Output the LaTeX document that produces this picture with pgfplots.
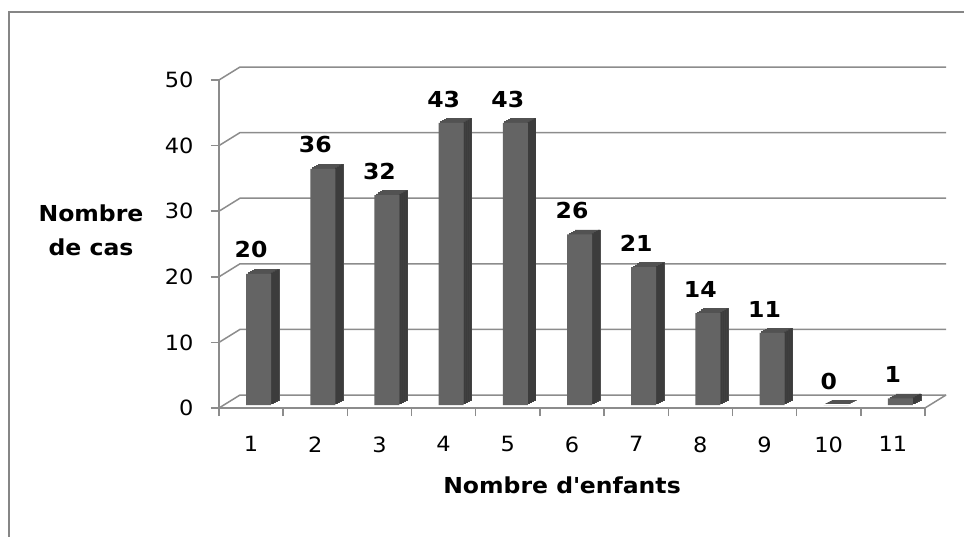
\documentclass[border=0pt]{standalone}
\usepackage{fontspec}
\setmainfont{DejaVu Sans}[FakeStretch=1.07]
\usepackage{pgfplots}
\pgfplotsset{compat=1.18}
\usepackage{pgfplotstable}
\definecolor{gridc}{HTML}{8C8C8C}
\definecolor{frontc}{HTML}{646464}
\definecolor{topc}{HTML}{525252}
\definecolor{sidec}{HTML}{3C3C3C}
\definecolor{framec}{HTML}{868686}

\pgfplotstableread{
x y
1 20
2 36
3 32
4 43
5 43
6 26
7 21
8 14
9 11
10 0
11 1
}\data

\begin{document}
\begin{tikzpicture}
\path[use as bounding box] (-219pt,-128pt) rectangle (745pt,408pt);
\draw[framec, line width=2pt] (-210pt,-140pt) -- (-210pt,396pt) -- (760pt,396pt);
\begin{axis}[
  scale only axis, width=706pt, height=328pt,
  xmin=0.5, xmax=11.5, ymin=0, ymax=50,
  axis x line*=bottom, axis y line*=left,
  axis line style={gridc, line width=1.5pt, -},
  xtick={0.5,1.5,2.5,3.5,4.5,5.5,6.5,7.5,8.5,9.5,10.5,11.5},
  xticklabels={1,2,3,4,5,6,7,8,9,10,11,{}},
  ytick={0,10,20,30,40,50},
  tick align=outside, major tick length=8pt,
  tick style={gridc, line width=1.5pt},
  xticklabel style={xshift=32.09pt, yshift=-17pt, font=\fontsize{21}{25}\selectfont},
  yticklabel style={xshift=-14pt, font=\fontsize{21}{25}\selectfont},
  /pgf/number format/assume math mode=true,
  clip=false,
  xlabel={Nombre d\textquotesingle enfants},
  ylabel={Nombre\\de cas},
  every axis x label/.style={at={(axis description cs:0,0)}, xshift=343pt, yshift=-77pt, anchor=center, font=\bfseries\fontsize{22}{26}\selectfont},
  every axis y label/.style={at={(axis description cs:0,0)}, xshift=-128pt, yshift=178pt, anchor=center, align=center, font=\bfseries\fontsize{22}{34}\selectfont},
]
\pgfplotsinvokeforeach{0,10,20,30,40,50}{
  \draw[gridc, line width=1.5pt] (axis cs:0.5,#1) -- ++(21pt,13pt) -- ([xshift=21pt,yshift=13pt]axis cs:11.5,#1);
}
\draw[gridc, line width=1.5pt] (axis cs:11.5,0) -- ++(21pt,13pt);
% top faces (staircase approximation)
\addplot[ybar, bar width=25pt, bar shift=15.5pt, yshift=7.5pt, fill=topc, draw=topc, line width=0.8pt] table[x=x,y=y]{\data};
\addplot[ybar, bar width=25pt, bar shift=13.5pt, yshift=6.375pt, fill=topc, draw=topc, line width=0.8pt] table[x=x,y=y]{\data};
\addplot[ybar, bar width=25pt, bar shift=11.5pt, yshift=5.25pt, fill=topc, draw=topc, line width=0.8pt] table[x=x,y=y]{\data};
\addplot[ybar, bar width=25pt, bar shift=9.5pt, yshift=4.125pt, fill=topc, draw=topc, line width=0.8pt] table[x=x,y=y]{\data};
% side faces
\addplot[ybar, bar width=2.2pt, bar shift=27pt, yshift=7.5pt, fill=sidec, draw=none] table[x=x,y=y]{\data};
\addplot[ybar, bar width=2.2pt, bar shift=25pt, yshift=6.375pt, fill=sidec, draw=none] table[x=x,y=y]{\data};
\addplot[ybar, bar width=2.2pt, bar shift=23pt, yshift=5.25pt, fill=sidec, draw=none] table[x=x,y=y]{\data};
\addplot[ybar, bar width=2.2pt, bar shift=21pt, yshift=4.125pt, fill=sidec, draw=none] table[x=x,y=y]{\data};
% front faces
\addplot[ybar, bar width=25pt, bar shift=7.5pt, yshift=3pt, fill=frontc, draw=none,
  nodes near coords,
  nodes near coords style={font=\bfseries\fontsize{22}{26}\selectfont, text=black, anchor=south, yshift=12pt}] table[x=x,y=y]{\data};
\end{axis}
\end{tikzpicture}
\end{document}
